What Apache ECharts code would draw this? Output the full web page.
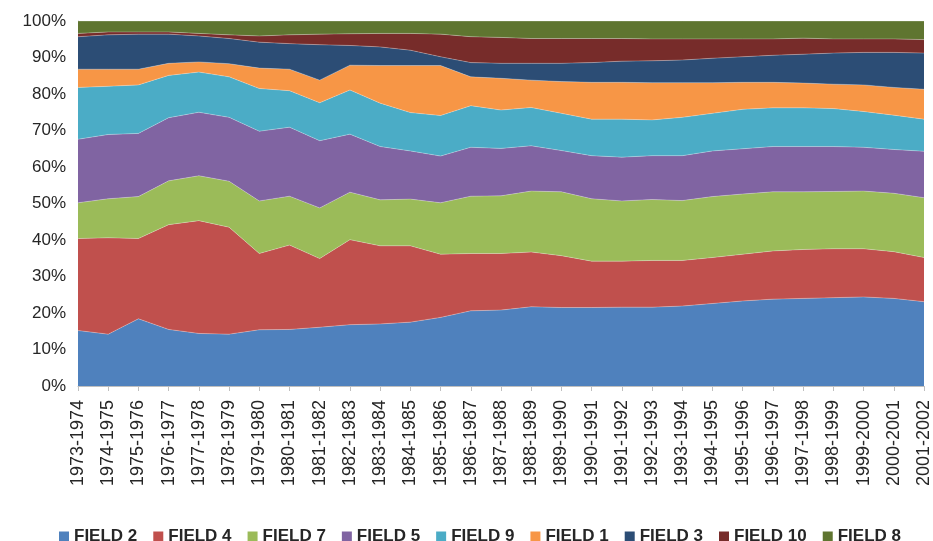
<!DOCTYPE html>
<html>
<head>
<meta charset="utf-8">
<script src="https://cdn.jsdelivr.net/npm/echarts@6/dist/echarts.min.js"></script>
<style>
  html, body { margin: 0; padding: 0; background: #fff; }
  #chart { width: 933px; height: 541px; }
</style>
</head>
<body>
<div id="chart"></div>
<script>
// 年度类目
const years = ["1973-1974","1974-1975","1975-1976","1976-1977","1977-1978","1978-1979","1979-1980",
  "1980-1981","1981-1982","1982-1983","1983-1984","1984-1985","1985-1986","1986-1987","1987-1988",
  "1988-1989","1989-1990","1990-1991","1991-1992","1992-1993","1993-1994","1994-1995","1995-1996",
  "1996-1997","1997-1998","1998-1999","1999-2000","2000-2001","2001-2002"];

// 各字段占比 (%)，自下而上堆叠
const field2  = [15.2,14.2,18.4,15.5,14.4,14.2,15.4,15.5,16.1,16.8,17.0,17.5,18.8,20.6,20.8,21.7,21.5,21.5,21.6,21.6,21.9,22.6,23.3,23.8,24.0,24.2,24.4,24.0,23.1];
const field4  = [25.2,26.4,22.0,28.7,30.9,29.3,20.9,23.1,18.8,23.3,21.4,20.9,17.3,15.7,15.5,15.0,14.2,12.7,12.6,12.8,12.5,12.6,12.8,13.2,13.4,13.4,13.2,12.8,12.1];
const field7  = [9.8,10.7,11.5,12.0,12.3,12.6,14.4,13.4,13.9,13.0,12.6,12.8,14.1,15.7,15.8,16.7,17.5,17.1,16.5,16.7,16.4,16.7,16.5,16.2,15.8,15.7,15.8,16.0,16.4];
const field5  = [17.4,17.6,17.3,17.3,17.4,17.5,19.1,18.9,18.4,15.9,14.6,13.2,12.8,13.4,13.0,12.4,11.3,11.8,12.0,12.0,12.3,12.5,12.4,12.4,12.4,12.3,12.0,12.0,12.7];
const field9  = [14.2,13.2,13.3,11.6,11.0,11.1,11.7,10.0,10.4,12.1,11.9,10.5,11.1,11.4,10.5,10.5,10.2,10.0,10.4,9.8,10.5,10.3,10.8,10.6,10.6,10.4,9.8,9.4,8.8];
const field1  = [5.0,4.7,4.3,3.3,2.8,3.6,5.6,5.9,6.2,6.8,10.3,12.9,13.7,7.9,8.7,7.5,8.7,10.1,10.1,10.2,9.5,8.4,7.4,7.0,6.8,6.7,7.3,7.6,8.2];
const field3  = [8.9,9.4,9.6,8.0,7.1,6.9,7.1,7.0,9.7,5.4,5.1,4.2,2.4,3.9,4.1,4.6,5.0,5.4,5.8,6.0,6.2,6.7,7.0,7.4,7.9,8.5,8.9,9.6,9.9];
const field10 = [0.9,0.8,0.6,0.6,0.7,1.0,1.7,2.4,2.9,3.2,3.7,4.6,6.2,7.1,7.1,6.8,6.8,6.6,6.2,6.0,5.8,5.3,4.9,4.5,4.4,3.9,3.7,3.7,3.7];
const field8  = [3.4,3.0,3.0,3.0,3.4,3.8,4.1,3.8,3.6,3.5,3.4,3.4,3.6,4.3,4.5,4.8,4.8,4.8,4.8,4.9,4.9,4.9,4.9,4.9,4.7,4.9,4.9,4.9,5.1];

const seriesNames = ["FIELD 2","FIELD 4","FIELD 7","FIELD 5","FIELD 9","FIELD 1","FIELD 3","FIELD 10","FIELD 8"];
const seriesData = [field2, field4, field7, field5, field9, field1, field3, field10, field8];
const colors = ["#4F81BD","#C0504D","#9BBB59","#8064A2","#4BACC6","#F79646","#2C4D75","#772C2A","#5F7530"];

const chart = echarts.init(document.getElementById("chart"));

const option = {
  animation: false,
  color: colors,
  textStyle: { fontFamily: "Liberation Sans, Arial, sans-serif" },
  grid: { left: 78, right: 8, top: 21, bottom: 155 },
  legend: {
    data: seriesNames,
    left: 54,
    top: 523,
    icon: "rect",
    itemWidth: 10,
    itemHeight: 10,
    itemGap: 16,
    textStyle: { fontSize: 17, fontWeight: "bold", color: "#262626" }
  },
  xAxis: {
    type: "category",
    data: years,
    boundaryGap: false,
    axisLine: { lineStyle: { color: "#BFBFBF" } },
    axisTick: { show: true, length: 5, lineStyle: { color: "#BFBFBF" } },
    axisLabel: { rotate: 90, interval: 0, fontSize: 18, color: "#262626", margin: 14 }
  },
  yAxis: {
    type: "value",
    min: 0,
    max: 100,
    interval: 10,
    axisLine: { show: true, lineStyle: { color: "#BFBFBF" } },
    axisTick: { show: false },
    splitLine: { show: true, lineStyle: { color: "#D9D9D9" } },
    axisLabel: { formatter: "{value}%", fontSize: 17, color: "#262626", margin: 12 }
  },
  series: seriesNames.map((name, i) => ({
    name: name,
    type: "line",
    stack: "total",
    data: seriesData[i],
    symbol: "none",
    lineStyle: { width: 0.6, color: "rgba(255,255,255,0.45)" },
    areaStyle: { color: colors[i], opacity: 1 }
  }))
};

chart.setOption(option);
window.addEventListener("resize", chart.resize);
</script>
</body>
</html>
